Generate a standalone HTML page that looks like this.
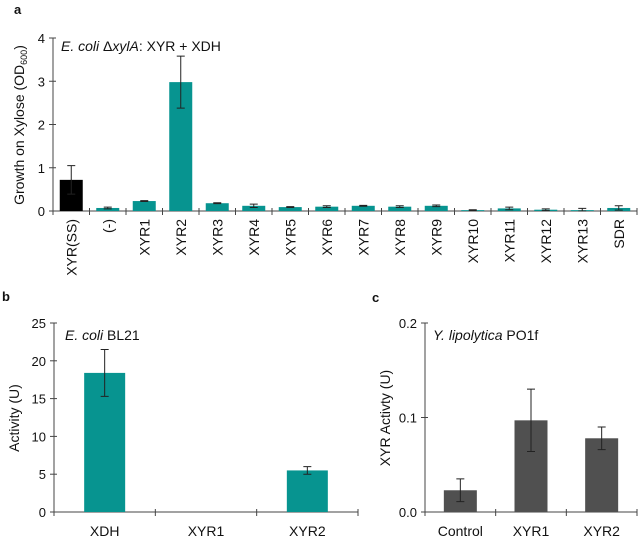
<!DOCTYPE html>
<html><head><meta charset="utf-8"><style>
body{margin:0;background:#fff}
svg text{font-family:"Liberation Sans",sans-serif;fill:#111}
</style></head><body>
<svg id="s" width="638" height="538" xmlns="http://www.w3.org/2000/svg">
<text x="14" y="14" font-size="13" font-weight="bold">a</text>
<text x="2" y="301" font-size="13" font-weight="bold">b</text>
<text x="372" y="302" font-size="13" font-weight="bold">c</text>
<text x="61" y="51" font-size="14"><tspan font-style="italic">E. coli</tspan> Δ<tspan font-style="italic">xylA</tspan>: XYR + XDH</text>
<text x="65" y="340" font-size="14"><tspan font-style="italic">E. coli</tspan> BL21</text>
<text x="433" y="340" font-size="14"><tspan font-style="italic">Y. lipolytica</tspan> PO1f</text>
<text transform="translate(24,125) rotate(-90)" font-size="14" text-anchor="middle">Growth on Xylose (OD<tspan font-size="9" dy="3">600</tspan><tspan dy="-3">)</tspan></text>
<text transform="translate(19,418) rotate(-90)" font-size="14" text-anchor="middle">Activity (U)</text>
<text transform="translate(390,418) rotate(-90)" font-size="14" text-anchor="middle">XYR Activty (U)</text>
<g id="g"></g>
</svg>
<script>
const aCats=["XYR(SS)","(-)","XYR1","XYR2","XYR3","XYR4","XYR5","XYR6","XYR7","XYR8","XYR9","XYR10","XYR11","XYR12","XYR13","SDR"];
const aVals=[0.72,0.07,0.23,2.98,0.18,0.12,0.09,0.10,0.12,0.10,0.12,0.02,0.06,0.03,0.02,0.07];
const aErr=[0.33,0.02,0.01,0.6,0.01,0.04,0.01,0.02,0.01,0.02,0.02,0.01,0.03,0.02,0.04,0.05];
const aTicks=[0,1,2,3,4];
const bCats=["XDH","XYR1","XYR2"];
const bVals=[18.4,0,5.5];
const bErr=[3.1,0,0.5];
const bTicks=[0,5,10,15,20,25];
const cCats=["Control","XYR1","XYR2"];
const cVals=[0.023,0.097,0.078];
const cErr=[0.012,0.033,0.012];
const cTicks=["0.0","0.1","0.2"];
const NS="http://www.w3.org/2000/svg",G=document.getElementById('g');
function mk(t,a,txt){const e=document.createElementNS(NS,t);for(const k in a)e.setAttribute(k,a[k]);if(txt!=null)e.textContent=txt;G.appendChild(e);return e;}
function chart(p){
 const y=v=>p.y0-(v/p.max)*(p.y0-p.y1);
 const cw=(p.x1-p.x0)/p.cats.length;
 let e=mk('line',{x1:p.x0,y1:p.y0,x2:p.x0,y2:p.y1,stroke:'#444'});
 
 e=mk('line',{x1:p.x0,y1:p.y0,x2:p.x1,y2:p.y0,stroke:'#444'});
 
 p.ticks.forEach(t=>{const v=parseFloat(t),yy=y(v);
  mk('line',{x1:p.x0-4,y1:yy,x2:p.x0+3,y2:yy,stroke:'#444'});
  e=mk('text',{x:p.x0-8,y:yy+5,'font-size':13,'text-anchor':'end'},t);
  });
 for(let i=0;i<=p.cats.length;i++){const xx=p.x0+i*cw;mk('line',{x1:xx,y1:p.y0-3,x2:xx,y2:p.y0+4,stroke:'#444'});}
 p.cats.forEach((c,i)=>{const cx=p.x0+(i+0.5)*cw,v=p.vals[i],er=p.err[i];
  e=mk('rect',{x:cx-p.bw/2,y:y(v),width:p.bw,height:p.y0-y(v),fill:(p.colors?p.colors[i]:p.color)});
  
  if(er>0){const t=y(v+er),b=y(Math.max(0,v-er));
   e=mk('path',{d:`M${cx},${t}V${b}M${cx-4},${t}H${cx+4}M${cx-4},${b}H${cx+4}`,stroke:'#222',fill:'none'});
   }
  if(p.rot){e=mk('text',{transform:`translate(${cx+5},${p.y0+8}) rotate(-90)`,'font-size':14,'text-anchor':'end'},c);}
  else e=mk('text',{x:cx,y:p.y0+24,'font-size':14,'text-anchor':'middle'},c);
  });
}
chart({id:'panel-a',cats:aCats,vals:aVals,err:aErr,ticks:aTicks.map(String),max:4,x0:53,x1:637,y0:211,y1:38,bw:23,color:'#079490',colors:aCats.map((c,i)=>i==0?'#000':'#079490'),rot:true});
chart({id:'panel-b',cats:bCats,vals:bVals,err:bErr,ticks:bTicks.map(String),max:25,x0:54,x1:358,y0:512,y1:323,bw:41,color:'#079490'});
chart({id:'panel-c',cats:cCats,vals:cVals,err:cErr,ticks:cTicks,max:0.2,x0:425,x1:637,y0:512,y1:323,bw:33,color:'#505050'});
</script>
</body></html>
